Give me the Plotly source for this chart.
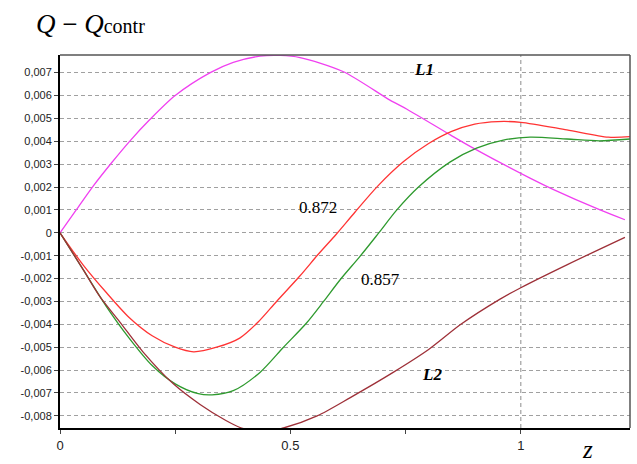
import plotly.graph_objects as go

# L1 (magenta)
l1_z = [0, 0.036, 0.072, 0.112, 0.152, 0.195, 0.25, 0.326, 0.376, 0.434, 0.478, 0.521, 0.614, 0.716, 0.753, 0.847, 0.897, 1.02, 1.07, 1.172, 1.226]
l1_v = [0, 0.00102, 0.00204, 0.00306, 0.00402, 0.00495, 0.006, 0.007, 0.00745, 0.00772, 0.00775, 0.00766, 0.00705, 0.0058, 0.0054, 0.00428, 0.0037, 0.00239, 0.0019, 0.001, 0.00057]

# 0.872 (red)
r_z = [0, 0.05, 0.1, 0.15, 0.2, 0.25, 0.29, 0.34, 0.39, 0.43, 0.47, 0.52, 0.56, 0.6, 0.64, 0.69, 0.745, 0.8, 0.85, 0.9, 0.95, 1.0, 1.1, 1.19, 1.237]
r_v = [0, -0.0014, -0.0026, -0.0037, -0.0045, -0.0050, -0.0052, -0.0050, -0.0046, -0.0039, -0.0030, -0.0019, -0.00095, -0.00005, 0.0009, 0.00205, 0.0031, 0.0039, 0.00443, 0.00475, 0.00486, 0.00483, 0.0045, 0.00418, 0.0042]

# 0.857 (green)
g_z = [0, 0.05, 0.1, 0.15, 0.2, 0.25, 0.3, 0.33, 0.376, 0.434, 0.485, 0.535, 0.572, 0.608, 0.651, 0.69, 0.731, 0.778, 0.847, 0.904, 0.962, 1.02, 1.10, 1.17, 1.237]
g_v = [0, -0.0016, -0.0032, -0.0046, -0.0058, -0.0066, -0.00703, -0.00708, -0.0069, -0.0061, -0.0050, -0.00394, -0.003, -0.00205, -0.00103, -0.00005, 0.001, 0.002, 0.0031, 0.0037, 0.00405, 0.00418, 0.0041, 0.00402, 0.0041]

# L2 (brown)
b_z = [0, 0.05, 0.087, 0.13, 0.18, 0.246, 0.304, 0.36, 0.394, 0.44, 0.485, 0.558, 0.63, 0.723, 0.8, 0.87, 0.955, 1.0, 1.1, 1.226]
b_v = [0, -0.0016, -0.0028, -0.0039, -0.0052, -0.0066, -0.0075, -0.0082, -0.00853, -0.0087, -0.00853, -0.0080, -0.0072, -0.0061, -0.0051, -0.0040, -0.0029, -0.0024, -0.0014, -0.0002]

y_ticks = [0.007, 0.006, 0.005, 0.004, 0.003, 0.002, 0.001, 0, -0.001, -0.002, -0.003, -0.004, -0.005, -0.006, -0.007, -0.008]
y_text = ["0,007", "0,006", "0,005", "0,004", "0,003", "0,002", "0,001", "0", "-0,001", "-0,002", "-0,003", "-0,004", "-0,005", "-0,006", "-0,007", "-0,008"]
x_ticks = [0, 0.25, 0.5, 0.75, 1]
x_text = ["0", "", "0.5", "", "1"]

X_RANGE = [0, 1.237]
Y_RANGE = [-0.00853, 0.00777]

fig = go.Figure()
series = [
    (l1_z, l1_v, "#f040f0", "L1"),
    (r_z, r_v, "#ff3333", "0.872"),
    (g_z, g_v, "#2e9a2e", "0.857"),
    (b_z, b_v, "#9e3038", "L2"),
]
for z, v, c, n in series:
    fig.add_trace(go.Scatter(x=z, y=v, mode="lines", name=n,
                             line=dict(color=c, width=1.3, shape="spline", smoothing=0.8),
                             showlegend=False))

# vertical dashed grid line at z = 1
fig.add_shape(type="line", xref="x", yref="paper", x0=1, x1=1, y0=0, y1=1,
              line=dict(color="#a0a0a0", width=1.2, dash="4px,3px"), layer="below")

# frame: top and right grey
fig.add_shape(type="line", xref="paper", yref="paper", x0=0, x1=1, y0=1, y1=1,
              line=dict(color="#555555", width=1.5))
fig.add_shape(type="line", xref="paper", yref="paper", x0=1, x1=1, y0=0, y1=1,
              line=dict(color="#555555", width=1.5))

serif = "Liberation Serif, Times New Roman, serif"
fig.add_annotation(x=0.79, y=0.00715, xref="x", yref="y", text="<b><i>L1</i></b>",
                   showarrow=False, font=dict(family=serif, size=17, color="black"))
fig.add_annotation(x=0.56, y=0.00112, xref="x", yref="y", text="0.872",
                   showarrow=False, font=dict(family=serif, size=17, color="black"))
fig.add_annotation(x=0.695, y=-0.00205, xref="x", yref="y", text="0.857",
                   showarrow=False, font=dict(family=serif, size=17, color="black"))
fig.add_annotation(x=0.808, y=-0.00617, xref="x", yref="y", text="<b><i>L2</i></b>",
                   showarrow=False, font=dict(family=serif, size=17, color="black"))

fig.add_annotation(xref="paper", yref="paper", x=-0.045, y=1.083, xanchor="left", yanchor="middle",
                   text="<i>Q</i> − <i>Q</i><span style='font-size:20px'>contr</span>",
                   showarrow=False, font=dict(family=serif, size=27, color="black"))
fig.add_annotation(xref="paper", yref="paper", x=0.925, y=-0.058, xanchor="center", yanchor="middle",
                   text="<i>z</i>", showarrow=False, font=dict(family=serif, size=25, color="black"))

fig.update_layout(
    width=637, height=464,
    margin=dict(l=60, r=7, t=55, b=36),
    paper_bgcolor="white", plot_bgcolor="white",
    xaxis=dict(range=X_RANGE, tickvals=x_ticks, ticktext=x_text,
               showgrid=False, zeroline=False, showline=True, linecolor="black", linewidth=2,
               ticks="outside", ticklen=4, tickcolor="#444", tickwidth=1,
               tickfont=dict(family="Liberation Sans, Arial, sans-serif", size=13, color="#222")),
    yaxis=dict(range=Y_RANGE, tickvals=y_ticks, ticktext=y_text,
               showgrid=True, gridcolor="#a0a0a0", griddash="4px,3px", gridwidth=1.2,
               zeroline=False, showline=True, linecolor="black", linewidth=2,
               ticks="outside", ticklen=4, tickcolor="#444", tickwidth=1,
               tickfont=dict(family="Liberation Sans, Arial, sans-serif", size=11, color="#222")),
)

fig.write_html("out.html")
